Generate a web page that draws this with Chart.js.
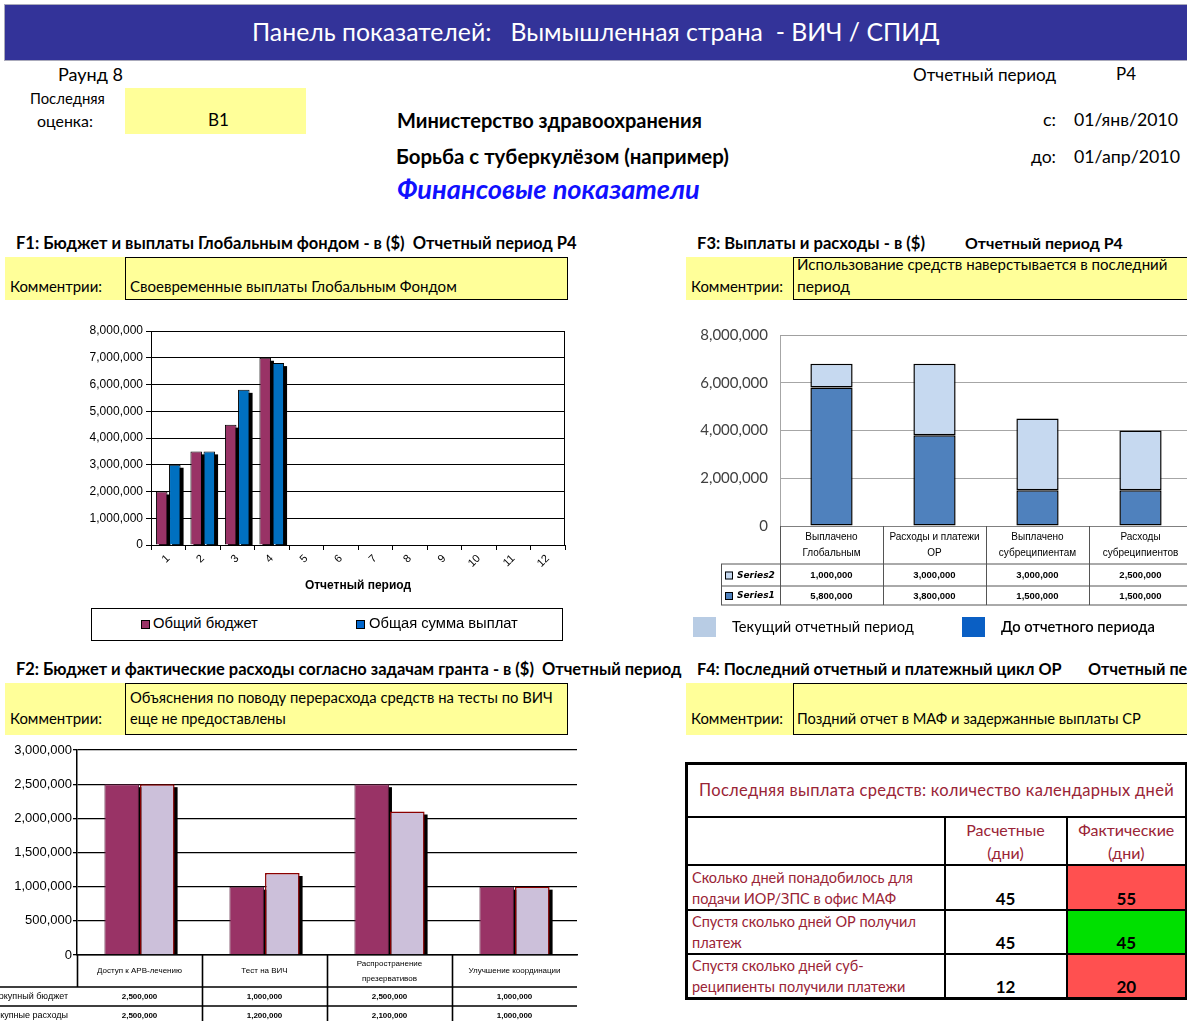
<!DOCTYPE html>
<html><head><meta charset="utf-8">
<script src="https://cdn.jsdelivr.net/npm/chart.js@4.4.1/dist/chart.umd.min.js"></script>
<style>
html,body{margin:0;padding:0;background:#fff;}
body{width:1187px;height:1021px;position:relative;overflow:hidden;font-family:Lato,"Open Sans",sans-serif;color:#000;}
.t{position:absolute;white-space:pre;line-height:1;}
.box{position:absolute;box-sizing:border-box;}
.yel{background:#ffff99;}
.cbox{background:#ffff99;border:1.5px solid #000;}
canvas{position:absolute;}
#f4{position:absolute;left:685px;top:762px;width:500px;border-collapse:collapse;table-layout:fixed;border:3px solid #000;font-family:Lato,sans-serif;}
#f4 td{border:2px solid #000;padding:0;color:#9a2436;}
</style></head><body>

<div class="box" style="left:4px;top:4px;width:1184px;height:57px;background:#333399;border:1px solid #aab;"></div>
<div class="box yel" style="left:125px;top:88px;width:181px;height:46px;"></div>

<div class="box yel" style="left:5px;top:257px;width:120px;height:43px;"></div>
<div class="box cbox" style="left:125px;top:257px;width:443px;height:43px;"></div>
<div class="box yel" style="left:686px;top:257px;width:107px;height:43px;"></div>
<div class="box cbox" style="left:793px;top:257px;width:400px;height:43px;"></div>
<div class="box yel" style="left:5px;top:683px;width:120px;height:52px;"></div>
<div class="box cbox" style="left:125px;top:683px;width:443px;height:52px;"></div>
<div class="box yel" style="left:686px;top:683px;width:107px;height:52px;"></div>
<div class="box cbox" style="left:793px;top:683px;width:400px;height:52px;"></div>

<div class="box" style="left:91px;top:608px;width:472px;height:33px;border:1.5px solid #000;"></div>
<div class="box" style="left:141px;top:620px;width:9px;height:9px;background:#993366;border:1px solid #000;"></div>
<div class="box" style="left:356px;top:620px;width:9px;height:9px;background:#0066cc;border:1px solid #000;"></div>
<div class="box" style="left:693px;top:617px;width:23px;height:20px;background:#b8cce4;"></div>
<div class="box" style="left:962px;top:617px;width:23px;height:20px;background:#0a5fc4;"></div>

<canvas id="c1" width="580" height="285" style="left:0;top:320px;"></canvas>
<canvas id="c3" width="512" height="300" style="left:680px;top:320px;"></canvas>
<canvas id="c2" width="590" height="281" style="left:0;top:740px;"></canvas>

<table id="f4"><colgroup><col style="width:258px"><col style="width:122px"><col style="width:120px"></colgroup><tbody id="f4body"></tbody></table>

<script>
// ---------- DATA ----------
const f1Periods = ['1','2','3','4','5','6','7','8','9','10','11','12'];
const f1Budget = [2000000, 3500000, 4500000, 7000000];
const f1Disbursed = [3000000, 3500000, 5800000, 6800000];
const f1SeriesNames = ['Общий бюджет', 'Общая сумма выплат'];

const f2Categories = [['Доступ к АРВ-лечению'], ['Тест на ВИЧ'], ['Распространение', 'презервативов'], ['Улучшение координации']];
const f2Budget = [2500000, 1000000, 2500000, 1000000];
const f2Spent = [2500000, 1200000, 2100000, 1000000];
const f2RowLabels = ['Совокупный бюджет', 'Совокупные расходы'];

const f3Categories = [['Выплачено', 'Глобальным'], ['Расходы и платежи', 'ОР'], ['Выплачено', 'субреципиентам'], ['Расходы', 'субреципиентов']];
const f3Prior = [5800000, 3800000, 1500000, 1500000];    // Series1
const f3Current = [1000000, 3000000, 3000000, 2500000];  // Series2
const f3RowLabels = ['Series2', 'Series1'];

const f4Title = 'Последняя выплата средств: количество календарных дней';
const f4Heads = [['Расчетные', '(дни)'], ['Фактические', '(дни)']];
const f4Questions = [['Сколько дней понадобилось для', 'подачи ИОР/ЗПС в офис МАФ'], ['Спустя сколько дней ОР получил', 'платеж'], ['Спустя сколько дней суб-', 'реципиенты получили платежи']];
const f4Planned = [45, 45, 12];
const f4Actual = [55, 45, 20];

// ---------- TEXTS ----------
const T = [
 ['Панель показателей:   Вымышленная страна  - ВИЧ / СПИД', 252, 34, 24, 688, '', '#fff'],
 ['Раунд 8', 58, 75, 15, 65],
 ['Последняя', 30, 99, 13, 75],
 ['оценка:', 37, 122, 13, 56],
 ['B1', 208, 121, 16, 21],
 ['Министерство здравоохранения', 397, 121, 17, 305, 'b'],
 ['Борьба с туберкулёзом (например)', 396, 158, 17, 333, 'b'],
 ['Финансовые показатели', 397, 191, 22, 303, 'bi', '#1010ff'],
 ['Отчетный период', 913, 76, 16, 143],
 ['P4', 1116, 76, 16, 20],
 ['с:', 1043, 121, 16, 13],
 ['01/янв/2010', 1074, 121, 16, 104],
 ['до:', 1031, 158, 16, 25],
 ['01/апр/2010', 1074, 158, 16, 106],
 ['F1: Бюджет и выплаты Глобальным фондом - в ($)  Отчетный период P4', 16, 244, 15, 561, 'b'],
 ['Комментрии:', 10, 288, 14, 92],
 ['Своевременные выплаты Глобальным Фондом', 130, 288, 14, 327],
 ['F3: Выплаты и расходы - в ($)', 697, 244, 15, 228, 'b'],
 ['Отчетный период P4', 965, 244, 15, 158, 'b'],
 ['Комментрии:', 691, 288, 14, 92],
 ['Использование средств наверстывается в последний', 797, 266, 14, 371],
 ['период', 797, 288, 14, 53],
 ['Текущий отчетный период', 732, 628, 15, 182],
 ['До отчетного периода', 1001, 628, 15, 154, 's'],
 ['F2: Бюджет и фактические расходы согласно задачам гранта - в ($)  Отчетный период', 16, 670, 15, 666, 'b'],
 ['Комментрии:', 10, 720, 14, 92],
 ['Объяснения по поводу перерасхода средств на тесты по ВИЧ', 130, 698, 14, 423],
 ['еще не предоставлены', 130, 720, 14, 156],
 ['F4: Последний отчетный и платежный цикл ОР', 697, 670, 15, 365, 'b'],
 ['Отчетный период P4', 1088, 670, 16.2, 0, 'b'],
 ['Комментрии:', 691, 720, 14, 92],
 ['Поздний отчет в МАФ и задержанные выплаты СР', 797, 720, 14, 344],
 [f1SeriesNames[0], 153, 624, 14, 105, '', '#000', '"Liberation Sans", Arial, sans-serif'],
 [f1SeriesNames[1], 369, 624, 14, 149, '', '#000', '"Liberation Sans", Arial, sans-serif'],
];
T.forEach(([t, x, cy, fs, w, st, col, fam]) => {
  st = st || '';
  const d = document.createElement('div');
  d.className = 't'; d.textContent = t;
  d.style.left = x + 'px'; d.style.fontSize = fs + 'px';
  if (st.includes('b')) d.style.fontWeight = 'bold';
  if (st.includes('s')) d.style.fontWeight = '600';
  if (st.includes('i')) d.style.fontStyle = 'italic';
  if (col) d.style.color = col;
  if (fam) d.style.fontFamily = fam;
  document.body.appendChild(d);
  let f = fs;
  if (w) { const mw = d.getBoundingClientRect().width; f = fs * w / mw; d.style.fontSize = f + 'px'; }
  d.style.top = (cy - 0.57 * f) + 'px';
});

// ---------- F4 TABLE ----------
(function(){
  const tb = document.getElementById('f4body');
  let h = '<tr style="height:53px"><td colspan="3" style="text-align:center;font-size:16.5px;letter-spacing:0.3px;">' + f4Title + '</td></tr>';
  h += '<tr style="height:48px"><td></td>' + f4Heads.map(l => '<td style="text-align:center;font-size:16px;line-height:23px;vertical-align:middle;">' + l.join('<br>') + '</td>').join('') + '</tr>';
  const rh = [45, 40, 44];
  f4Questions.forEach((q, i) => {
    const bg = f4Actual[i] > f4Planned[i] ? '#ff5050' : '#00e000';
    h += '<tr style="height:' + rh[i] + 'px"><td style="font-size:14.5px;line-height:21px;vertical-align:bottom;padding-left:4px;white-space:nowrap;overflow:hidden;">' + q.join('<br>') + '</td>' +
      '<td style="text-align:center;vertical-align:bottom;font-weight:bold;font-size:17px;line-height:21px;color:#000;">' + f4Planned[i] + '</td>' +
      '<td style="text-align:center;vertical-align:bottom;font-weight:bold;font-size:17px;line-height:21px;color:#000;background:' + bg + ';">' + f4Actual[i] + '</td></tr>';
  });
  tb.innerHTML = h;
})();

// ---------- PLUGINS ----------
const fmt = v => Number(v).toLocaleString('en-US');

const shadowPlugin = {
  id: 'barShadow',
  beforeDatasetsDraw(c, a, o) {
    if (!o || !o.dx) return;
    const ctx = c.ctx, ca = c.chartArea;
    ctx.save();
    ctx.beginPath(); ctx.rect(ca.left, ca.top, ca.right - ca.left, ca.bottom - ca.top); ctx.clip();
    ctx.fillStyle = '#000';
    c.getSortedVisibleDatasetMetas().forEach(m => m.data.forEach(el => {
      if (el.skip) return;
      const p = el.getProps(['x', 'y', 'base', 'width'], true);
      if (p.y == null || isNaN(p.y)) return;
      ctx.fillRect(p.x - p.width / 2 + o.dx, p.y + o.dy, p.width, p.base - p.y);
    }));
    ctx.restore();
  }
};

const framePlugin = {
  id: 'frame',
  afterDatasetsDraw(c, a, o) {
    if (!o || !o.color) return;
    const {left, top, right, bottom} = c.chartArea, ctx = c.ctx;
    ctx.save(); ctx.strokeStyle = o.color; ctx.lineWidth = 1;
    ctx.beginPath();
    ctx.moveTo(left, top + 0.5); ctx.lineTo(right - 0.5, top + 0.5); ctx.lineTo(right - 0.5, bottom);
    ctx.stroke(); ctx.restore();
  }
};

const dataTablePlugin = {
  id: 'dataTable',
  afterDraw(chart, args, o) {
    if (!o || !o.rows) return;
    const ctx = chart.ctx, xs = chart.scales.x, a = chart.chartArea;
    const labels = chart.data.labels, n = labels.length;
    const cw = (xs.right - xs.left) / n;
    ctx.save();
    ctx.textAlign = 'center'; ctx.textBaseline = 'middle'; ctx.fillStyle = '#000';
    ctx.font = o.catFont;
    const catBot = a.bottom + o.catHeight;
    labels.forEach((lab, i) => {
      const lines = Array.isArray(lab) ? lab : [lab];
      const cx = xs.getPixelForValue(i);
      const y0 = (a.bottom + catBot) / 2 - (lines.length * o.catLH) / 2 + o.catLH / 2;
      lines.forEach((ln, k) => ctx.fillText(ln, cx, y0 + k * o.catLH));
    });
    let top = catBot;
    const bottoms = [];
    o.rows.forEach(r => {
      const bot = top + r.height;
      const cy = (top + bot) / 2 + 0.5;
      ctx.font = o.valFont; ctx.textAlign = 'center'; ctx.fillStyle = '#000';
      r.data.forEach((v, i) => ctx.fillText(fmt(v), xs.getPixelForValue(i), cy));
      ctx.font = o.rowFont;
      if (r.marker) {
        ctx.fillStyle = r.marker; ctx.fillRect(o.lineLeft + 4, cy - 4, 8, 8);
        ctx.strokeStyle = '#000'; ctx.lineWidth = 1; ctx.strokeRect(o.lineLeft + 4.5, cy - 3.5, 7, 7);
        ctx.fillStyle = '#000'; ctx.textAlign = 'left'; ctx.fillText(r.label, o.lineLeft + 16, cy);
      } else {
        ctx.fillStyle = '#000'; ctx.textAlign = 'right'; ctx.fillText(r.label, o.labelRight, cy);
      }
      bottoms.push(bot); top = bot;
    });
    ctx.strokeStyle = o.lineColor; ctx.lineWidth = o.lineWidth;
    const right = o.lineRight != null ? o.lineRight : xs.right;
    ctx.beginPath();
    [catBot].concat(bottoms).forEach(y => { ctx.moveTo(o.lineLeft, y); ctx.lineTo(right, y); });
    for (let i = o.vFrom; i <= (o.vTo != null ? o.vTo : n); i++) {
      const x = Math.round(xs.left + i * cw) + 0.5;
      ctx.moveTo(x, a.bottom); ctx.lineTo(x, top);
    }
    if (o.leftBorder) { ctx.moveTo(o.lineLeft + 0.5, catBot); ctx.lineTo(o.lineLeft + 0.5, top); }
    if (o.firstCatOnly) { const x = xs.left + 0.5; ctx.moveTo(x, a.bottom); ctx.lineTo(x, catBot); }
    ctx.stroke();
    ctx.restore();
  }
};

Chart.register(shadowPlugin, framePlugin, dataTablePlugin);
Chart.defaults.font.family = '"Liberation Sans", Arial, sans-serif';
Chart.defaults.color = '#000';

function fixY(w) { return function(s) { s.width = w; s.paddingTop = 0; s.paddingBottom = 0; }; }

// ---------- F1 ----------
new Chart(document.getElementById('c1'), {
  type: 'bar',
  data: {
    labels: f1Periods,
    datasets: [
      {label: f1SeriesNames[0], data: f1Budget, backgroundColor: '#993366', borderColor: '#000', borderWidth: 1, categoryPercentage: 0.76, barPercentage: 0.88},
      {label: f1SeriesNames[1], data: f1Disbursed, backgroundColor: '#0070c0', borderColor: '#000', borderWidth: 1, categoryPercentage: 0.76, barPercentage: 0.88}
    ]
  },
  options: {
    responsive: false, animation: false, devicePixelRatio: 1,
    layout: {padding: {top: 11, right: 15, left: 0, bottom: 0}},
    plugins: {legend: {display: false}, tooltip: {enabled: false}, barShadow: {dx: 3, dy: 3}, frame: {color: '#000'}},
    scales: {
      x: {
        grid: {display: true, drawOnChartArea: false, drawTicks: true, tickLength: 5, color: '#000', offset: true},
        border: {color: '#000'},
        ticks: {autoSkip: false, minRotation: 45, maxRotation: 45, font: {size: 11}, padding: 2},
        title: {display: true, text: 'Отчетный период', font: {size: 12, weight: 'bold'}, padding: {top: 0, bottom: 12}},
        afterFit(s) { s.height = 60; }
      },
      y: {
        min: 0, max: 8000000,
        ticks: {stepSize: 1000000, callback: v => fmt(v), font: {size: 12}, padding: 3},
        grid: {color: '#000', tickLength: 5},
        border: {color: '#000'},
        afterFit: fixY(151)
      }
    }
  }
});

// ---------- F2 ----------
new Chart(document.getElementById('c2'), {
  type: 'bar',
  data: {
    labels: f2Categories,
    datasets: [
      {label: f2RowLabels[0], data: f2Budget, backgroundColor: '#993366', borderColor: '#5a1f3c', borderWidth: 1, categoryPercentage: 0.57, barPercentage: 0.97},
      {label: f2RowLabels[1], data: f2Spent, backgroundColor: '#ccc0da', borderColor: '#8b0000', borderWidth: 1.5, categoryPercentage: 0.57, barPercentage: 0.97}
    ]
  },
  options: {
    responsive: false, animation: false, devicePixelRatio: 1,
    layout: {padding: {top: 10, right: 13, left: 0, bottom: 0}},
    plugins: {
      legend: {display: false}, tooltip: {enabled: false}, barShadow: {dx: 3, dy: 3},
      dataTable: {
        catHeight: 32, catLH: 15, catFont: '8px "Liberation Sans", Arial', valFont: 'bold 8px "Liberation Sans", Arial',
        rowFont: '9px "Liberation Sans", Arial', labelRight: 68, lineLeft: 0, lineColor: '#000', lineWidth: 1.6,
        vFrom: 1, vTo: 3, firstCatOnly: true,
        rows: [{label: f2RowLabels[0], data: f2Budget, height: 19}, {label: f2RowLabels[1], data: f2Spent, height: 19}]
      }
    },
    scales: {
      x: {grid: {display: false}, border: {color: '#000', width: 1.5}, ticks: {display: false}, afterFit(s) { s.height = 66; }},
      y: {
        min: 0, max: 3000000,
        ticks: {stepSize: 500000, callback: v => fmt(v), font: {size: 13}, padding: 1},
        grid: {color: '#000', tickLength: 4, lineWidth: 1.3},
        border: {color: '#000', width: 1.5},
        afterFit: fixY(77)
      }
    }
  }
});

// ---------- F3 ----------
new Chart(document.getElementById('c3'), {
  type: 'bar',
  data: {
    labels: f3Categories,
    datasets: [
      {label: f3RowLabels[1], data: f3Prior, backgroundColor: '#4f81bd', borderColor: '#000', borderWidth: 1.5, borderSkipped: false, categoryPercentage: 1, barPercentage: 0.41},
      {label: f3RowLabels[0], data: f3Current, backgroundColor: '#c6d9f0', borderColor: '#000', borderWidth: 1.5, borderSkipped: false, categoryPercentage: 1, barPercentage: 0.41}
    ]
  },
  options: {
    responsive: false, animation: false, devicePixelRatio: 1,
    layout: {padding: {top: 15, right: 0, left: 0, bottom: 0}},
    plugins: {
      legend: {display: false}, tooltip: {enabled: false}, frame: {color: '#a0a0a0'},
      dataTable: {
        catHeight: 38, catLH: 16, catFont: '10px "Liberation Sans", Arial', valFont: 'bold 9.5px "Liberation Sans", Arial',
        rowFont: 'italic bold 9px "DejaVu Sans", sans-serif', lineLeft: 41, lineRight: 512, lineColor: '#555', lineWidth: 1,
        vFrom: 0, leftBorder: true,
        rows: [{label: f3RowLabels[0], data: f3Current, height: 22, marker: '#c6d9f0'}, {label: f3RowLabels[1], data: f3Prior, height: 19, marker: '#4f81bd'}]
      }
    },
    scales: {
      x: {stacked: true, grid: {display: false}, border: {color: '#808080'}, ticks: {display: false}, afterFit(s) { s.height = 94; }},
      y: {
        stacked: true, min: 0, max: 8000000,
        ticks: {stepSize: 2000000, callback: v => fmt(v), font: {size: 15, family: 'Lato, sans-serif'}, color: '#404040', padding: 12},
        grid: {color: '#a6a6a6', drawTicks: false},
        border: {color: '#a6a6a6'},
        afterFit: fixY(100)
      }
    }
  }
});
</script>
</body></html>
